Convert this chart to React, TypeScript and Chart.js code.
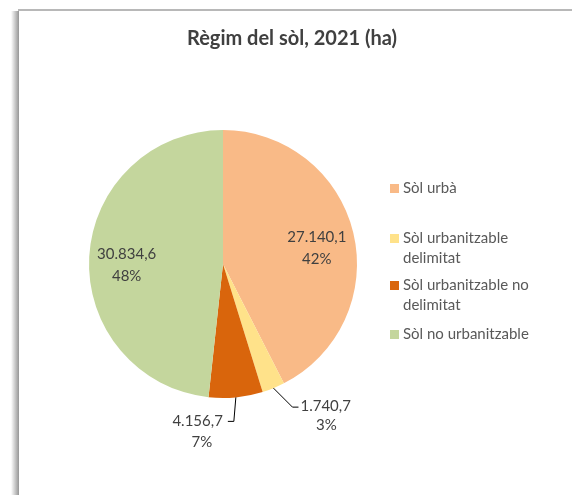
import React, { useEffect, useRef } from "react";
import { Chart, registerables } from "chart.js";

Chart.register(...registerables);

const title = "Règim del sòl, 2021 (ha)";
const categories = ["Sòl urbà", "Sòl urbanitzable delimitat", "Sòl urbanitzable no delimitat", "Sòl no urbanitzable"];
const legendLines = [["Sòl urbà"], ["Sòl urbanitzable", "delimitat"], ["Sòl urbanitzable no", "delimitat"], ["Sòl no urbanitzable"]];
const values = [27140.1, 1740.7, 4156.7, 30834.6];
const valueLabels = ["27.140,1", "1.740,7", "4.156,7", "30.834,6"];
const percentLabels = ["42%", "3%", "7%", "48%"];
const colors = ["#F9BA87", "#FFE28A", "#D9650C", "#C4D69D"];

const FONT = "Lato, 'Open Sans', sans-serif";

const framePlugin = {
  id: "frame",
  beforeDraw(chart: any) {
    const ctx = chart.ctx;
    ctx.save();
    ctx.fillStyle = "#ffffff";
    ctx.fillRect(0, 0, chart.width, chart.height);
    // left shadow
    const g = ctx.createLinearGradient(11, 0, 19, 0);
    g.addColorStop(0, "rgba(255,255,255,1)");
    g.addColorStop(1, "rgba(150,150,150,1)");
    ctx.fillStyle = g;
    ctx.fillRect(11, 11, 8, chart.height - 11);
    ctx.fillStyle = "#b8b8b8";
    ctx.fillRect(18, 9, chart.width - 18, 2);
    ctx.fillStyle = "#ffffff";
    ctx.fillRect(19, 11, chart.width - 19, chart.height - 11);
    // title
    ctx.fillStyle = "#404040";
    ctx.font = `bold 20px ${FONT}`;
    ctx.textAlign = "center";
    ctx.textBaseline = "middle";
    ctx.fillText(title, 292, 39);
    // legend
    ctx.font = `15px ${FONT}`;
    ctx.textAlign = "left";
    const tops = [188, 238, 285, 334];
    legendLines.forEach((lines, i) => {
      ctx.fillStyle = colors[i];
      ctx.fillRect(390, tops[i] - 4, 9, 9);
      ctx.fillStyle = "#595959";
      lines.forEach((l, j) => ctx.fillText(l, 403, tops[i] + j * 20));
    });
    ctx.restore();
  },
};

const labelPlugin = {
  id: "pielabels",
  afterDraw(chart: any) {
    const ctx = chart.ctx;
    const meta = chart.getDatasetMeta(0);
    ctx.save();
    ctx.font = `15px ${FONT}`;
    ctx.fillStyle = "#404040";
    ctx.textBaseline = "middle";
    meta.data.forEach((arc: any, i: number) => {
      const { x, y, startAngle, endAngle, outerRadius } = arc.getProps(["x", "y", "startAngle", "endAngle", "outerRadius"], true);
      const mid = (startAngle + endAngle) / 2;
      const cos = Math.cos(mid);
      const sin = Math.sin(mid);
      if (i === 0 || i === 3) {
        const r = outerRadius * 0.72;
        const cx = x + r * cos;
        const cy = y + r * sin + (i === 0 ? 7 : 6);
        ctx.textAlign = "center";
        ctx.fillText(valueLabels[i], cx, cy - 11);
        ctx.fillText(percentLabels[i], cx, cy + 11);
      } else {
        const ex = x + outerRadius * cos;
        const ey = y + outerRadius * sin;
        ctx.strokeStyle = "#000000";
        ctx.lineWidth = 1;
        ctx.beginPath();
        if (i === 1) {
          ctx.moveTo(ex, ey);
          ctx.lineTo(ex + 19, ey + 19);
          ctx.lineTo(ex + 25, ey + 19);
          ctx.stroke();
          ctx.textAlign = "left";
          ctx.fillText(valueLabels[i], ex + 27, ey + 18);
          ctx.textAlign = "center";
          ctx.fillText(percentLabels[i], ex + 53, ey + 37);
        } else {
          ctx.moveTo(ex, ey);
          ctx.lineTo(ex - 2, ey + 24);
          ctx.lineTo(ex - 8, ey + 24);
          ctx.stroke();
          ctx.textAlign = "right";
          ctx.fillText(valueLabels[i], ex - 13, ey + 24);
          ctx.textAlign = "center";
          ctx.fillText(percentLabels[i], ex - 34, ey + 45);
        }
      }
    });
    ctx.restore();
  },
};

export default function App() {
  const ref = useRef<HTMLCanvasElement>(null);
  useEffect(() => {
    document.body.style.margin = "0";
    const chart = new Chart(ref.current!, {
      type: "pie",
      data: {
        labels: categories,
        datasets: [{ data: values, backgroundColor: colors, borderWidth: 0 }],
      },
      options: {
        animation: false,
        responsive: false,
        layout: { padding: { left: 89, top: 130, right: 215, bottom: 97 } },
        plugins: { legend: { display: false }, tooltip: { enabled: false }, title: { display: false } },
      },
      plugins: [framePlugin, labelPlugin],
    });
    return () => chart.destroy();
  }, []);
  return <canvas ref={ref} width={572} height={495} style={{ display: "block" }} />;
}
